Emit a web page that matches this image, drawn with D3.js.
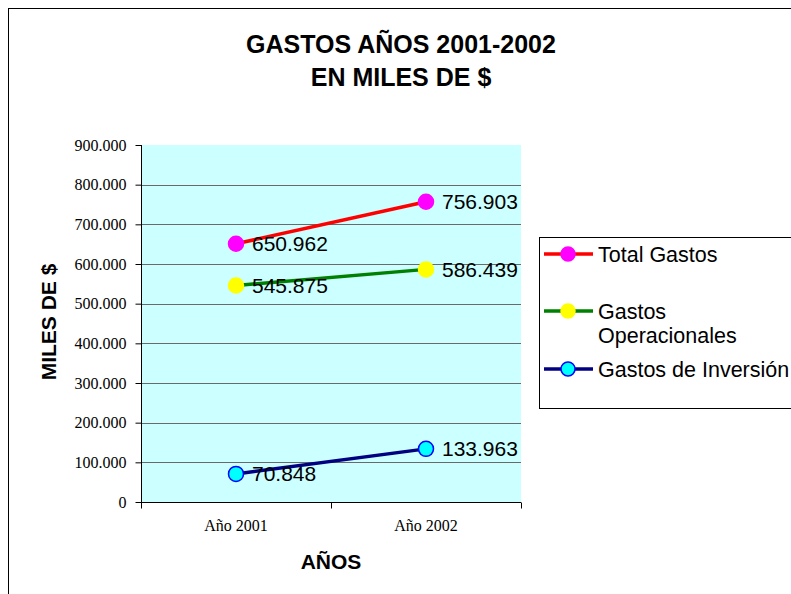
<!DOCTYPE html>
<html>
<head>
<meta charset="utf-8">
<script src="https://cdn.jsdelivr.net/npm/d3@7"></script>
<style>
  body { margin: 0; background: #fff; }
  svg { display: block; }
</style>
</head>
<body>
<svg id="chart" width="791" height="594"></svg>
<script>
// Datos del gráfico
const years = ["Año 2001", "Año 2002"];
const seriesNames = ["Total Gastos", "Gastos Operacionales", "Gastos de Inversión"];
const totalGastos = [650962, 756903];
const gastosOperacionales = [545875, 586439];
const gastosInversion = [70848, 133963];
const yTicks = [0, 100000, 200000, 300000, 400000, 500000, 600000, 700000, 800000, 900000];

const series = [
  { name: seriesNames[0], values: totalGastos, line: "#ff0000", fill: "#ff00ff", stroke: "#ff00ff" },
  { name: seriesNames[1], values: gastosOperacionales, line: "#008000", fill: "#ffff00", stroke: "#ffff00" },
  { name: seriesNames[2], values: gastosInversion, line: "#000080", fill: "#00ffff", stroke: "#0000ff" }
];

const svg = d3.select("#chart");
const fmt = v => d3.format(",")(v).replace(/,/g, ".");
const sans = "Liberation Sans, Arial, sans-serif";
const serif = "Liberation Serif, Times New Roman, serif";

// Marco exterior
svg.append("rect")
  .attr("x", 8.5).attr("y", 8.5)
  .attr("width", 800).attr("height", 600)
  .attr("fill", "none").attr("stroke", "#000");

// Titulo
const title = svg.append("text")
  .attr("text-anchor", "middle")
  .attr("font-family", sans)
  .attr("font-weight", "bold")
  .attr("font-size", "25px")
  .attr("fill", "#000");
title.append("tspan").attr("x", 401).attr("y", 53).text("GASTOS AÑOS 2001-2002");
title.append("tspan").attr("x", 401).attr("y", 86).text("EN MILES DE $");

const plot = { left: 141, right: 521, top: 145, bottom: 502 };

const x = d3.scaleBand()
  .domain(years)
  .range([plot.left, plot.right]);

const y = d3.scaleLinear()
  .domain([0, 900000])
  .range([plot.bottom, plot.top]);

// Fondo del area de trazado
svg.append("rect")
  .attr("x", plot.left).attr("y", plot.top)
  .attr("width", plot.right - plot.left)
  .attr("height", plot.bottom - plot.top)
  .attr("fill", "#ccffff");

// Lineas de division
svg.append("g")
  .selectAll("line")
  .data(yTicks.filter(t => t > 0 && t < 900000))
  .join("line")
    .attr("x1", plot.left).attr("x2", plot.right)
    .attr("y1", d => Math.round(y(d)) + 0.5)
    .attr("y2", d => Math.round(y(d)) + 0.5)
    .attr("stroke", "#6a6a6a")
    .attr("stroke-width", 1);

// Eje Y
const yAxis = svg.append("g")
  .attr("transform", `translate(${plot.left + 0.5},0)`)
  .call(d3.axisLeft(y).tickValues(yTicks).tickSize(6).tickPadding(9).tickFormat(fmt));
yAxis.select(".domain").attr("stroke", "#000").attr("d", `M-0,${plot.top}V${plot.bottom}`);
yAxis.selectAll(".tick line").attr("stroke", "#000");
yAxis.selectAll("text")
  .attr("font-family", serif)
  .attr("font-size", "16px")
  .attr("fill", "#000");

// Eje X
const xAxis = svg.append("g")
  .attr("transform", `translate(0,${plot.bottom + 0.5})`)
  .call(d3.axisBottom(x).tickSize(0).tickPadding(17));
xAxis.select(".domain").attr("stroke", "#000").attr("d", `M${plot.left},0H${plot.right}`);
xAxis.selectAll("text")
  .attr("font-family", serif)
  .attr("font-size", "16px")
  .attr("fill", "#000");
// marcas entre categorias
xAxis.append("g")
  .selectAll("line")
  .data([...years.map(d => x(d)), plot.right])
  .join("line")
    .attr("x1", d => Math.round(d) + 0.5).attr("x2", d => Math.round(d) + 0.5)
    .attr("y1", 0).attr("y2", 6)
    .attr("stroke", "#000");

// Titulos de ejes
svg.append("text")
  .attr("x", 331).attr("y", 569)
  .attr("text-anchor", "middle")
  .attr("font-family", sans)
  .attr("font-weight", "bold")
  .attr("font-size", "21px")
  .text("AÑOS");

svg.append("text")
  .attr("transform", "translate(56,322) rotate(-90)")
  .attr("text-anchor", "middle")
  .attr("font-family", sans)
  .attr("font-weight", "bold")
  .attr("font-size", "21px")
  .text("MILES DE $");

// Series
const line = d3.line()
  .x((d, i) => x(years[i]) + x.bandwidth() / 2)
  .y(d => y(d));

series.forEach(s => {
  const g = svg.append("g");
  g.append("path")
    .attr("d", line(s.values))
    .attr("fill", "none")
    .attr("stroke", s.line)
    .attr("stroke-width", 3.5);
  g.selectAll("circle")
    .data(s.values)
    .join("circle")
      .attr("cx", (d, i) => x(years[i]) + x.bandwidth() / 2)
      .attr("cy", d => y(d))
      .attr("r", 7.5)
      .attr("fill", s.fill)
      .attr("stroke", s.stroke)
      .attr("stroke-width", 1.5);
  g.selectAll("text")
    .data(s.values)
    .join("text")
      .attr("x", (d, i) => x(years[i]) + x.bandwidth() / 2 + 16)
      .attr("y", d => y(d) + 7.5)
      .attr("font-family", sans)
      .attr("font-size", "21px")
      .attr("fill", "#000")
      .text(d => fmt(d));
});

// Leyenda
const legend = svg.append("g");
legend.append("rect")
  .attr("x", 539.5).attr("y", 237.5)
  .attr("width", 300).attr("height", 171)
  .attr("fill", "#fff")
  .attr("stroke", "#000");

const legendRows = [
  { s: series[0], y: 254, lines: ["Total Gastos"] },
  { s: series[1], y: 311, lines: ["Gastos", "Operacionales"] },
  { s: series[2], y: 369, lines: ["Gastos de Inversión"] }
];

legendRows.forEach(r => {
  legend.append("line")
    .attr("x1", 544).attr("x2", 593)
    .attr("y1", r.y).attr("y2", r.y)
    .attr("stroke", r.s.line)
    .attr("stroke-width", 3.5);
  legend.append("circle")
    .attr("cx", 568).attr("cy", r.y)
    .attr("r", 7)
    .attr("fill", r.s.fill)
    .attr("stroke", r.s.stroke)
    .attr("stroke-width", 1.5);
  const t = legend.append("text")
    .attr("font-family", sans)
    .attr("font-size", "21.5px")
    .attr("fill", "#000");
  r.lines.forEach((l, i) => {
    t.append("tspan")
      .attr("x", 598)
      .attr("y", r.y + 7.5 + i * 24)
      .text(l);
  });
});
</script>
</body>
</html>
